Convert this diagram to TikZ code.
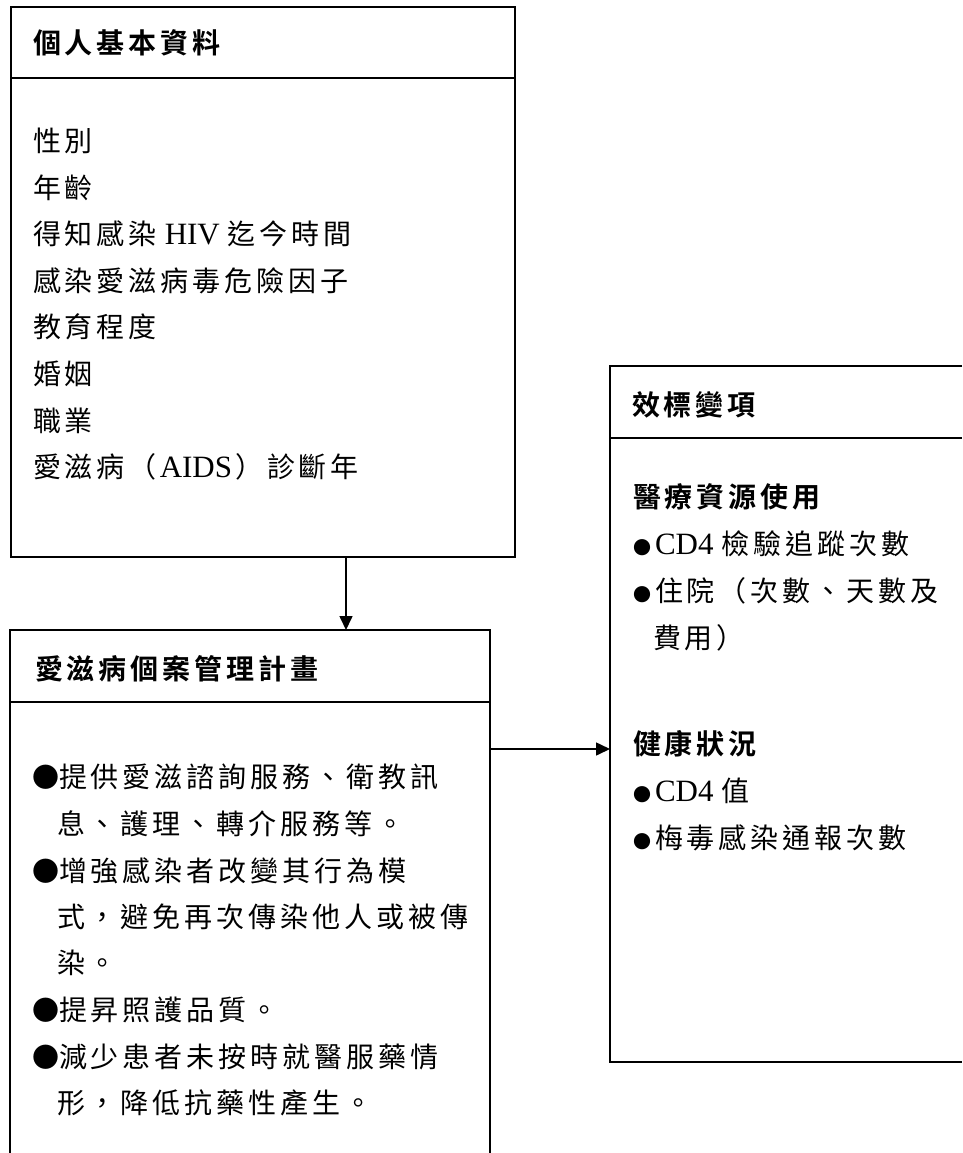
\documentclass[tikz,border=0pt]{standalone}
\usepackage{fontspec}
\setmainfont{Liberation Serif}
\newfontfamily\cjkreg[LetterSpace=14]{Noto Sans CJK TC}
\newfontfamily\cjkbold[LetterSpace=14]{Noto Sans CJK TC Bold}
\newfontfamily\cjkdot{Noto Sans CJK TC}
\usetikzlibrary{arrows.meta}
\newcommand\zhtxt[1]{{\cjkreg\fontsize{28}{30}\selectfont #1}}
\newcommand\zhbf[1]{{\cjkbold\fontsize{28}{30}\selectfont #1}}
\newcommand\lat[1]{{\fontsize{31}{30}\selectfont #1}}
\newcommand\gap{\hspace{8pt}}
\newcommand\bigdot{{\cjkdot\fontsize{27}{30}\selectfont ●}}
\newcommand\smalldot{{\cjkdot\fontsize{18}{30}\selectfont ●}\hspace{4pt}}
\begin{document}
\begin{tikzpicture}[x=1pt,y=-1pt,
  boxline/.style={draw=black,line width=1.6pt},
  arr/.style={line width=1.6pt,-{Triangle[length=14pt,width=13pt]}},
  txt/.style={anchor=base west,inner sep=0pt,outer sep=0pt}]
\fill[white] (0,0) rectangle (962,1153);
\useasboundingbox (0,0) rectangle (962,1153);

% Box 1
\node[boxline,anchor=north west,minimum width=504pt,minimum height=550pt,inner sep=0pt] (b1) at (10,6) {};
\draw[boxline] (b1.west |- 0,78) -- (b1.east |- 0,78);
\node[txt] (h1) at (33,54) {\zhbf{個人基本資料}};
\node[txt] (l11) at (33,151) {\zhtxt{性別}};
\node[txt] (l12) at (33,198) {\zhtxt{年齡}};
\node[txt] (l13) at (33,244) {\zhtxt{得知感染}\gap\lat{HIV}\gap\zhtxt{迄今時間}};
\node[txt] (l14) at (33,291) {\zhtxt{感染愛滋病毒危險因子}};
\node[txt] (l15) at (33,337) {\zhtxt{教育程度}};
\node[txt] (l16) at (33,384) {\zhtxt{婚姻}};
\node[txt] (l17) at (33,431) {\zhtxt{職業}};
\node[txt] (l18) at (33,477) {\zhtxt{愛滋病（}\hspace{3pt}\lat{AIDS}\hspace{3pt}\zhtxt{）診斷年}};

% Box 2
\coordinate (b2nw) at (10,630);
\coordinate (b2ne) at (490,630);
\draw[boxline] (10,1153) -- (b2nw) -- (b2ne) -- (490,1153);
\draw[boxline] (10,702) -- (490,702);
\node[txt] (h2) at (35,679) {\zhbf{愛滋病個案管理計畫}};
\node[txt] (l21) at (32,787) {\bigdot\zhtxt{提供愛滋諮詢服務、衛教訊}};
\node[txt] (l22) at (57,834) {\zhtxt{息、護理、轉介服務等。}};
\node[txt] (l23) at (32,881) {\bigdot\zhtxt{增強感染者改變其行為模}};
\node[txt] (l24) at (57,927) {\zhtxt{式，避免再次傳染他人或被傳}};
\node[txt] (l25) at (57,973) {\zhtxt{染。}};
\node[txt] (l26) at (32,1020) {\bigdot\zhtxt{提昇照護品質。}};
\node[txt] (l27) at (32,1067) {\bigdot\zhtxt{減少患者未按時就醫服藥情}};
\node[txt] (l28) at (57,1113) {\zhtxt{形，降低抗藥性產生。}};

% Box 3
\coordinate (b3nw) at (610,366);
\coordinate (b3sw) at (610,1062);
\coordinate (b3w) at (610,749);
\draw[boxline] (962,366) -- (b3nw) -- (b3sw) -- (962,1062);
\draw[boxline] (610,438) -- (962,438);
\node[txt] (h3) at (632,415) {\zhbf{效標變項}};
\node[txt] (l31) at (633,507) {\zhbf{醫療資源使用}};
\node[txt] (l32) at (633,554) {\smalldot\lat{CD4}\gap\zhtxt{檢驗追蹤次數}};
\node[txt] (l33) at (633,601) {\smalldot\zhtxt{住院（次數、天數及}};
\node[txt] (l34) at (653,648) {\zhtxt{費用）}};
\node[txt] (l35) at (633,754) {\zhbf{健康狀況}};
\node[txt] (l36) at (633,801) {\smalldot\lat{CD4}\gap\zhtxt{值}};
\node[txt] (l37) at (633,848) {\smalldot\zhtxt{梅毒感染通報次數}};

% Connectors
\coordinate (a1s) at (346,556);
\coordinate (a1e) at (346,630);
\coordinate (a2s) at (490,749);
\draw[arr] (a1s) -- (a1e);
\draw[arr] (a2s) -- (b3w);
\end{tikzpicture}
\end{document}
